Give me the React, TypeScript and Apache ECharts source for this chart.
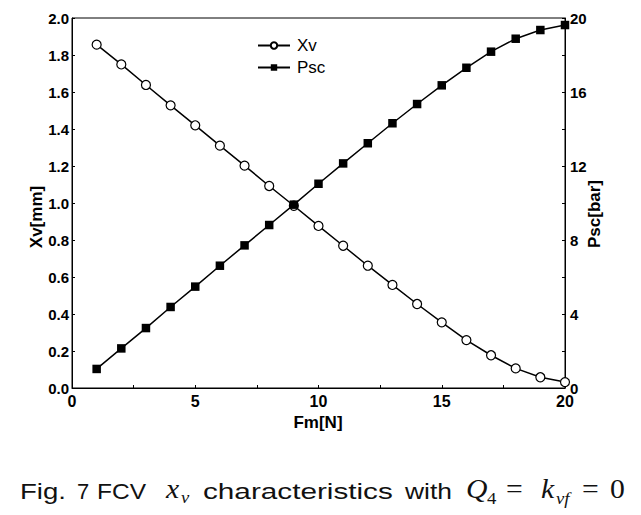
import React, { useEffect, useRef } from "react";
import * as echarts from "echarts";

const fm = [1, 2, 3, 4, 5, 6, 7, 8, 9, 10, 11, 12, 13, 14, 15, 16, 17, 18, 19, 20];
const xv = [1.856, 1.749, 1.638, 1.528, 1.42, 1.31, 1.202, 1.092, 0.985, 0.876, 0.769, 0.661, 0.557, 0.454, 0.355, 0.259, 0.177, 0.106, 0.058, 0.032];
const psc = [1.03, 2.14, 3.24, 4.38, 5.48, 6.61, 7.71, 8.81, 9.91, 11.04, 12.14, 13.23, 14.31, 15.35, 16.36, 17.31, 18.18, 18.88, 19.35, 19.62];
const seriesNames = ["Xv", "Psc"];
const axisNames = { x: "Fm[N]", yLeft: "Xv[mm]", yRight: "Psc[bar]" };

const SANS = "'Liberation Sans', Arial, sans-serif";
const SERIF = "'Liberation Serif', 'Times New Roman', serif";

let measureCtx: CanvasRenderingContext2D | null = null;
function measure(text: string, font: string): number {
  if (!measureCtx) measureCtx = document.createElement("canvas").getContext("2d");
  if (!measureCtx) return text.length * 10;
  measureCtx.font = font;
  return measureCtx.measureText(text).width;
}

export default function App() {
  const ref = useRef<HTMLDivElement>(null);
  useEffect(() => {
    if (!ref.current) return;
    const chart = echarts.init(ref.current, null, { renderer: "svg" });
    const labelStyle = { color: "#000", fontFamily: SANS, fontWeight: "bold" as const, fontSize: 15 };
    const sans = (text: string, x0: number, x1: number) => {
      const font = `22px ${SANS}`;
      const w = measure(text, font);
      const s = Math.max(1.0, Math.min(1.4, (x1 - x0) / w));
      return {
        type: "text", x: x0, y: 491, scaleX: s, silent: true,
        style: { text, fill: "#111", font, verticalAlign: "middle", align: "left" },
      };
    };
    const math = (text: string, x: number, italic: boolean, size: number, baseline: number) => ({
      type: "text", x, y: baseline - 0.33 * size, scaleX: 1.1, silent: true,
      style: { text, fill: "#111", font: `${italic ? "italic " : ""}${size}px ${SERIF}`, verticalAlign: "middle", align: "left" },
    });
    chart.setOption({
      animation: false,
      backgroundColor: "#fff",
      grid: { left: 72, right: 76, top: 18, bottom: 127, show: true, borderColor: "#000", borderWidth: 1 },
      legend: {
        orient: "vertical", left: 252, top: 32, itemWidth: 32, itemHeight: 8, itemGap: 5,
        textStyle: { color: "#000", fontFamily: SANS, fontSize: 17, padding: [0, 0, 0, 2] },
        data: seriesNames,
      },
      xAxis: {
        type: "value", min: 0, max: 20, interval: 5,
        axisLine: { show: true, lineStyle: { color: "#000", width: 1 } },
        axisTick: { show: true, inside: true, length: 3, lineStyle: { color: "#000" } },
        minorTick: { show: true, splitNumber: 2, length: 3, lineStyle: { color: "#000" } },
        splitLine: { show: false },
        axisLabel: { ...labelStyle, fontSize: 16, margin: 5 },
      },
      yAxis: [
        {
          type: "value", min: 0, max: 2, interval: 0.2, position: "left",
          axisLine: { show: true, lineStyle: { color: "#000", width: 1 } },
          axisTick: { show: true, inside: true, length: 3, lineStyle: { color: "#000" } },
          splitLine: { show: false },
          axisLabel: { ...labelStyle, margin: 3, formatter: (v: number) => v.toFixed(1) },
        },
        {
          type: "value", min: 0, max: 20, interval: 4, position: "right",
          axisLine: { show: true, lineStyle: { color: "#000", width: 1 } },
          axisTick: { show: true, inside: true, length: 3, lineStyle: { color: "#000" } },
          minorTick: { show: true, splitNumber: 2, length: 3, lineStyle: { color: "#000" } },
          splitLine: { show: false },
          axisLabel: { ...labelStyle, margin: 5, padding: [0, 0, 4, 0] },
        },
      ],
      series: [
        {
          name: seriesNames[0], type: "line", yAxisIndex: 0,
          data: fm.map((x, i) => [x, xv[i]]),
          symbol: "circle", symbolSize: 9,
          lineStyle: { color: "#000", width: 1.5 },
          itemStyle: { color: "#fff", borderColor: "#000", borderWidth: 1.2 },
        },
        {
          name: seriesNames[1], type: "line", yAxisIndex: 1,
          data: fm.map((x, i) => [x, psc[i]]),
          symbol: "rect", symbolSize: 8.5,
          lineStyle: { color: "#000", width: 1.5 },
          itemStyle: { color: "#000", borderColor: "#000", borderWidth: 0 },
        },
      ],
      graphic: [
        { type: "text", x: 36, y: 217, rotation: Math.PI / 2, silent: true,
          style: { text: axisNames.yLeft, fill: "#000", font: `bold 17px ${SANS}`, align: "center", verticalAlign: "middle" } },
        { type: "text", x: 594, y: 214, rotation: Math.PI / 2, silent: true,
          style: { text: axisNames.yRight, fill: "#000", font: `bold 17px ${SANS}`, align: "center", verticalAlign: "middle" } },
        { type: "text", x: 318, y: 422, silent: true,
          style: { text: axisNames.x, fill: "#000", font: `bold 17px ${SANS}`, align: "center", verticalAlign: "middle" } },
        sans("Fig.", 20, 66),
        sans("7", 77, 88),
        sans("FCV", 97, 146),
        math("x", 166, true, 27, 498),
        math("v", 181, true, 17, 503),
        sans("characteristics", 203, 393),
        sans("with", 405, 452),
        math("Q", 466, true, 27, 498),
        math("4", 487, false, 17, 504),
        math("=", 506, false, 27, 498),
        math("k", 541, true, 27, 498),
        math("vf", 556, true, 17, 504),
        math("=", 582, false, 27, 498),
        math("0", 610, false, 27, 498),
      ],
    });
    return () => chart.dispose();
  }, []);
  return <div ref={ref} style={{ width: 641, height: 515, position: "absolute", left: 0, top: 0 }} />;
}
